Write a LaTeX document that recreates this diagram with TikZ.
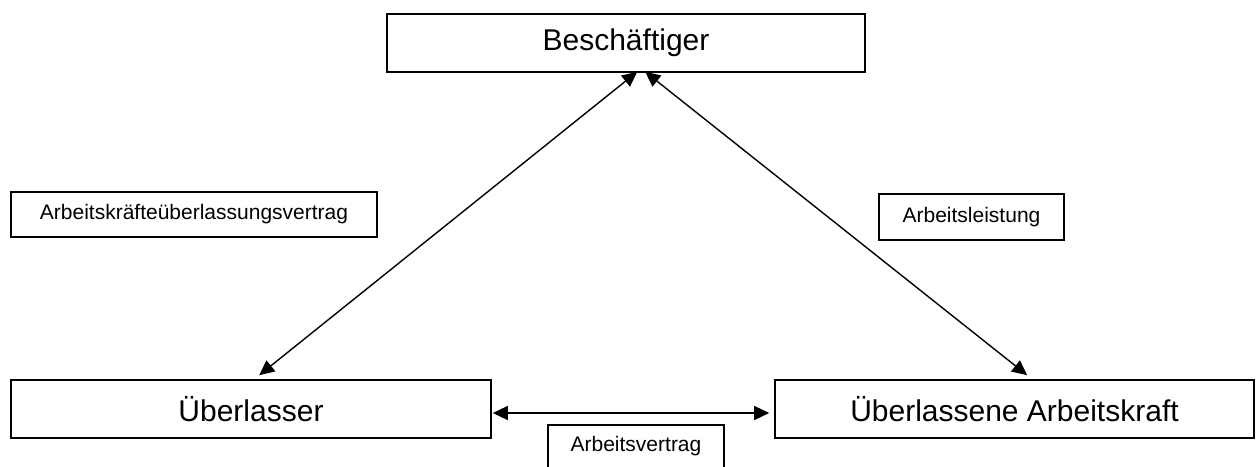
\documentclass[tikz,border=0pt]{standalone}
\usepackage{fontspec}
\setmainfont{Liberation Sans}
\usetikzlibrary{arrows.meta}
\begin{document}
\begin{tikzpicture}[x=1pt,y=-1pt,
  bigbox/.style={draw,line width=1.6pt,rectangle,inner sep=0pt,font=\fontsize{30}{36}\selectfont},
  smallbox/.style={draw,line width=1.5pt,rectangle,inner sep=0pt,font=\fontsize{21}{25}\selectfont},
  conn/.style={line width=1.4pt,{Triangle[length=15pt,width=14pt]}-{Triangle[length=15pt,width=14pt]}}]
\useasboundingbox (0,0) rectangle (1256,466);
\node[bigbox,minimum width=478pt,minimum height=58pt] (besch) at (626,43) {Beschäftiger};
\node[bigbox,minimum width=480pt,minimum height=58pt] (ueb) at (251,409) {Überlasser};
\node[bigbox,minimum width=479pt,minimum height=58pt] (ueba) at (1014.5,409) {Überlassene Arbeitskraft};
\node[smallbox,minimum width=366pt,minimum height=45pt] (akv) at (194,214.5) {Arbeitskräfteüberlassungsvertrag};
\node[smallbox,minimum width=185pt,minimum height=46pt] (al) at (971.5,217) {Arbeitsleistung};
\node[smallbox,minimum width=176pt,minimum height=43pt] (av) at (636,446.5) {Arbeitsvertrag};
\draw[conn] ([xshift=249pt,yshift=4pt]ueb.north west) -- ([xshift=251pt,yshift=1pt]besch.south west);
\draw[conn] ([xshift=253pt,yshift=4pt]ueba.north west) -- ([xshift=259pt,yshift=1pt]besch.south west);
\draw[conn] ([xshift=1pt,yshift=-4pt]ueb.east) -- ([xshift=-5pt,yshift=-4pt]ueba.west);
\end{tikzpicture}
\end{document}
